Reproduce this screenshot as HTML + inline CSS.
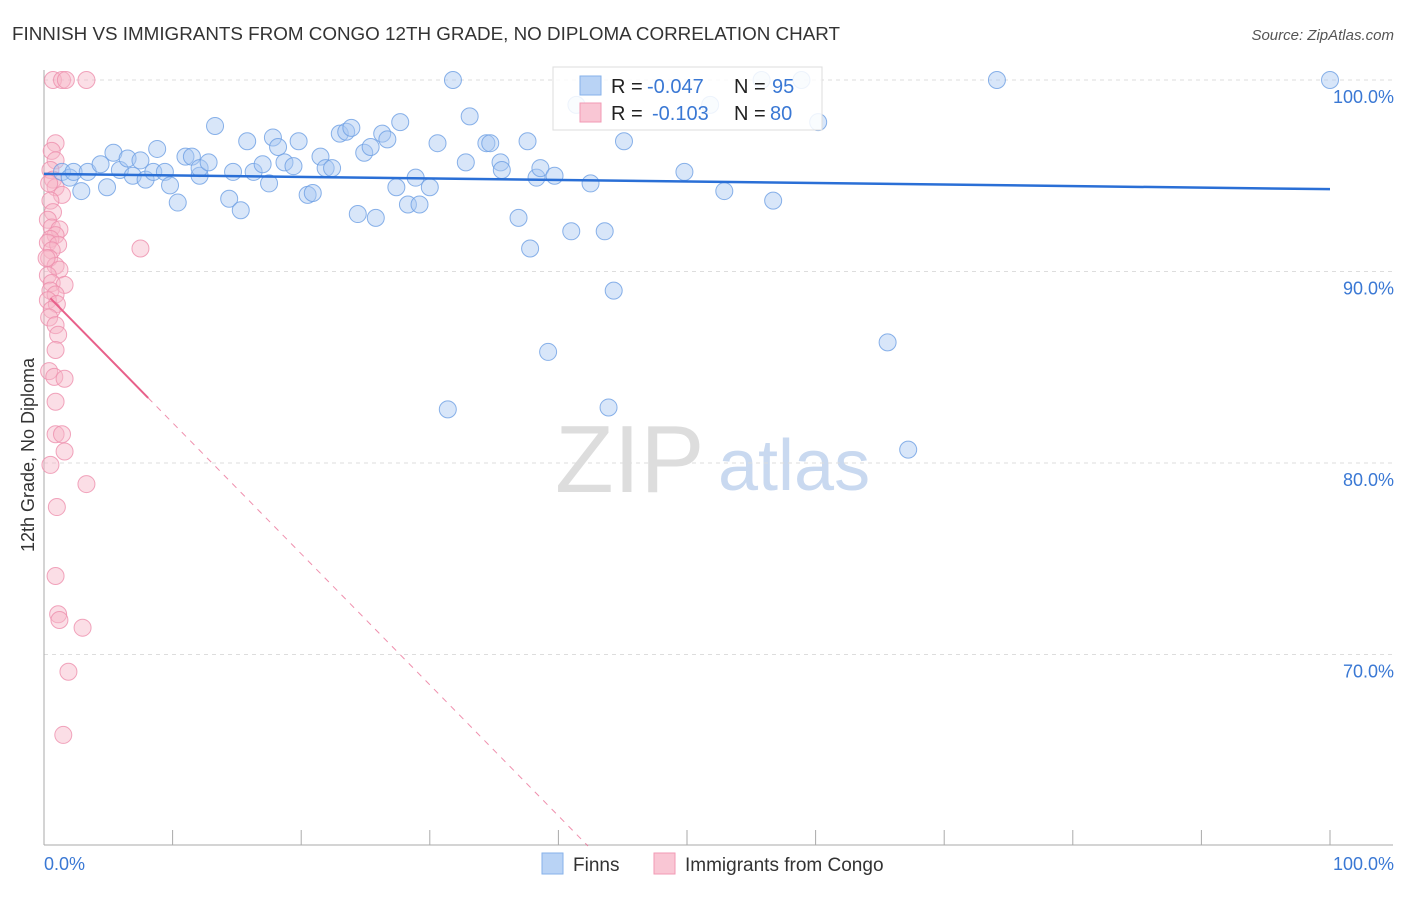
<!DOCTYPE html>
<html><head><meta charset="utf-8"><style>
body{margin:0;background:#fff;font-family:"Liberation Sans",sans-serif;}
svg text{font-family:"Liberation Sans",sans-serif;}
</style></head><body>
<svg id="chart" width="1406" height="892" viewBox="0 0 1406 892">
<text x="12" y="40" font-size="18" fill="#333" textLength="828" lengthAdjust="spacingAndGlyphs">FINNISH VS IMMIGRANTS FROM CONGO 12TH GRADE, NO DIPLOMA CORRELATION CHART</text>
<text x="1394" y="40" font-size="15" fill="#555" text-anchor="end" font-style="italic">Source: ZipAtlas.com</text>
<g>
<text x="555" y="492" font-size="96" fill="#ddd" font-family="Liberation Serif,serif">ZIP</text>
<text x="718" y="490" font-size="72" fill="#c9d9f0">atlas</text>
</g>
<g id="grid"></g>
<line x1="44" y1="70" x2="44" y2="845" stroke="#aaa"/>
<line x1="44" y1="845" x2="1393" y2="845" stroke="#aaa"/>
<g id="xticks"></g>
<text transform="translate(34,455) rotate(-90)" font-size="18" fill="#333" text-anchor="middle">12th Grade, No Diploma</text>
<text x="44" y="870" font-size="18" fill="#3a78d4">0.0%</text>
<text x="1394" y="870" font-size="18" fill="#3a78d4" text-anchor="end">100.0%</text>
<g id="points"></g>
<g id="trends"></g>
<g>
<rect x="553" y="67" width="269" height="63" fill="#fff" fill-opacity="0.85" stroke="#ddd"/>
<rect x="580" y="76" width="21" height="19" fill="#b9d3f5" stroke="#86b1ea"/>
<rect x="580" y="103" width="21" height="19" fill="#f9c6d4" stroke="#f29ab4"/>
<text x="611" y="93" font-size="20" fill="#222">R =</text>
<text x="647" y="93" font-size="20" fill="#3a78d4">-0.047</text>
<text x="734" y="93" font-size="20" fill="#222">N =</text>
<text x="772" y="93" font-size="20" fill="#3a78d4">95</text>
<text x="611" y="120" font-size="20" fill="#222">R =</text>
<text x="652" y="120" font-size="20" fill="#3a78d4">-0.103</text>
<text x="734" y="120" font-size="20" fill="#222">N =</text>
<text x="770" y="120" font-size="20" fill="#3a78d4">80</text>
</g>
<g>
<rect x="542" y="853" width="21" height="21" fill="#b9d3f5" stroke="#86b1ea"/>
<text x="573" y="871" font-size="19" fill="#333">Finns</text>
<rect x="654" y="853" width="21" height="21" fill="#f9c6d4" stroke="#f29ab4"/>
<text x="685" y="871" font-size="19" fill="#333">Immigrants from Congo</text>
</g>
</svg>
<script>
const yTicks=[100,90,80,70];
const yTickLabels=["100.0%","90.0%","80.0%","70.0%"];
const xTicks=[10,20,30,40,50,60,70,80,90,100];
const finnsX=[1.4,2.0,2.3,2.9,3.4,4.4,4.9,5.4,5.9,6.5,6.9,7.5,7.9,8.8,8.5,9.4,9.8,10.4,11.0,11.5,12.1,12.1,12.8,13.3,14.4,14.7,15.3,15.8,16.3,17.0,17.5,17.8,18.2,18.7,19.4,19.8,20.5,20.9,21.5,21.9,22.4,23.0,23.5,23.9,24.4,24.9,25.4,25.8,26.3,26.7,27.4,27.7,28.3,28.9,29.2,30.0,30.6,31.4,31.8,32.8,33.1,34.4,34.7,35.5,35.6,36.9,37.6,37.8,38.3,38.6,39.2,39.7,41.0,41.4,42.5,43.6,43.9,44.3,45.1,49.8,51.8,52.9,55.8,56.7,58.9,60.2,65.6,67.2,74.1,100.0];
const finnsY=[95.2,94.9,95.2,94.2,95.2,95.6,94.4,96.2,95.3,95.9,95.0,95.8,94.8,96.4,95.2,95.2,94.5,93.6,96.0,96.0,95.0,95.4,95.7,97.6,93.8,95.2,93.2,96.8,95.2,95.6,94.6,97.0,96.5,95.7,95.5,96.8,94.0,94.1,96.0,95.4,95.4,97.2,97.3,97.5,93.0,96.2,96.5,92.8,97.2,96.9,94.4,97.8,93.5,94.9,93.5,94.4,96.7,82.8,100.0,95.7,98.1,96.7,96.7,95.7,95.3,92.8,96.8,91.2,94.9,95.4,85.8,95.0,92.1,98.7,94.6,92.1,82.9,89.0,96.8,95.2,98.7,94.2,100.0,93.7,100.0,97.8,86.3,80.7,100.0,100.0];
const congoX=[0.7,1.4,1.7,3.3,0.9,0.6,0.9,0.5,0.7,0.9,1.4,0.5,0.7,0.3,0.6,1.2,0.9,0.5,0.3,1.1,0.6,0.4,0.9,1.2,0.3,0.6,1.6,0.5,0.9,0.3,1.0,0.6,0.4,0.9,1.1,0.9,0.4,0.8,1.6,0.9,0.9,1.4,1.6,0.5,3.3,1.0,0.9,1.1,1.2,3.0,1.9,1.5,7.5,0.4,0.2];
const congoY=[100.0,100.0,100.0,100.0,96.7,96.3,95.8,95.3,94.8,94.4,94.0,93.7,93.1,92.7,92.3,92.2,91.9,91.7,91.5,91.4,91.1,90.7,90.3,90.1,89.8,89.4,89.3,89.0,88.8,88.5,88.3,88.0,87.6,87.2,86.7,85.9,84.8,84.5,84.4,83.2,81.5,81.5,80.6,79.9,78.9,77.7,74.1,72.1,71.8,71.4,69.1,65.8,91.2,94.6,90.7];
const finnsTrend=[95.1,94.3];
const congoTrend=[88.6,83.4];
const X=v=>44+v*12.86, Y=v=>80+(100-v)*19.15;
const NS="http://www.w3.org/2000/svg";
function mk(t,a,p){const e=document.createElementNS(NS,t);for(const k in a)e.setAttribute(k,a[k]);p.appendChild(e);return e;}
const grid=document.getElementById('grid');
yTicks.forEach((v,i)=>{
 const l=mk('line',{x1:44,x2:1393,y1:Y(v),y2:Y(v),stroke:'#ddd','stroke-dasharray':'4,4'},grid);
 
 
 const t=mk('text',{x:1394,y:Y(v)+23,'font-size':18,fill:'#3a78d4','text-anchor':'end'},grid);
 t.textContent=yTickLabels[i];
 
 
});
const xt=document.getElementById('xticks');
xTicks.forEach(v=>{
 const l=mk('line',{x1:X(v),x2:X(v),y1:830,y2:845,stroke:'#aaa'},xt);
 
 
});
const pts=document.getElementById('points');
congoX.forEach((x,i)=>{
 const c=mk('circle',{cx:X(x),cy:Y(congoY[i]),r:8.5,fill:'#f7b6c8','fill-opacity':0.45,stroke:'#ee8fac','stroke-opacity':0.8},pts);
 
 
});
finnsX.forEach((x,i)=>{
 const c=mk('circle',{cx:X(x),cy:Y(finnsY[i]),r:8.5,fill:'#a9c8f2','fill-opacity':0.45,stroke:'#6d9fe3','stroke-opacity':0.8},pts);
 
 
});
const tr=document.getElementById('trends');
const bt=mk('line',{x1:X(0),y1:Y(finnsTrend[0]),x2:X(100),y2:Y(finnsTrend[1]),stroke:'#2a6fd6','stroke-width':2.5},tr);


const slope=(congoTrend[1]-congoTrend[0])/7.6;
const ct=mk('line',{x1:X(0.5),y1:Y(congoTrend[0]),x2:X(8.1),y2:Y(congoTrend[1]),stroke:'#e8608a','stroke-width':2},tr);


const xe=8.1+(congoTrend[1]-60)/(-slope);
const cd=mk('line',{x1:X(8.1),y1:Y(congoTrend[1]),x2:X(xe),y2:Y(60),stroke:'#e8608a','stroke-width':1,'stroke-dasharray':'6,6','stroke-opacity':0.7},tr);


</script>
</body></html>
